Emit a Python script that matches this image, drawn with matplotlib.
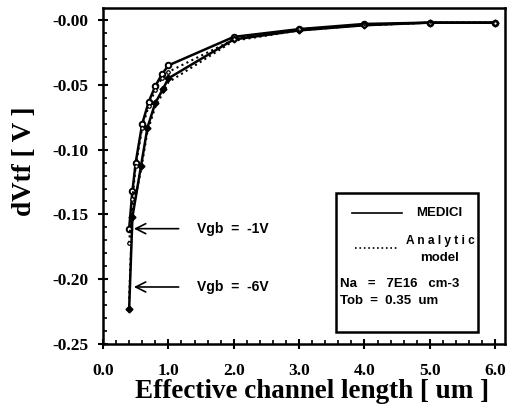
import numpy as np
import matplotlib
matplotlib.use('Agg')
import matplotlib.pyplot as plt
from matplotlib.patches import Rectangle
from matplotlib.ticker import MultipleLocator, FixedLocator, FixedFormatter

# channel length [um] and threshold shift [V]
L_vgb1 = [0.4, 0.45, 0.5, 0.6, 0.7, 0.8, 0.9, 1.0, 2.0, 3.0, 4.0, 5.0, 6.0]
medici_vgb1 = [-0.161, -0.132, -0.110, -0.080, -0.063, -0.051, -0.042, -0.035,
               -0.013, -0.007, -0.003, -0.002, -0.002]
analytic_vgb1 = [-0.172, -0.138, -0.113, -0.083, -0.066, -0.054, -0.045, -0.040,
                 -0.015, -0.007, -0.004, -0.002, -0.002]

L_vgb6 = [0.4, 0.45, 0.58, 0.68, 0.8, 0.92, 1.0, 2.0, 3.0, 4.0, 5.0, 6.0]
medici_vgb6 = [-0.223, -0.152, -0.113, -0.083, -0.064, -0.053, -0.045,
               -0.015, -0.008, -0.004, -0.002, -0.002]
analytic_vgb6 = [-0.215, -0.148, -0.116, -0.086, -0.067, -0.056, -0.048,
                 -0.016, -0.008, -0.004, -0.002, -0.002]

yticks = [0.0, -0.05, -0.10, -0.15, -0.20, -0.25]
ytick_labels = ['-0.00', '-0.05', '-0.10', '-0.15', '-0.20', '-0.25']
xticks = [0.0, 1.0, 2.0, 3.0, 4.0, 5.0, 6.0]

fig = plt.figure(figsize=(5.11, 4.05), dpi=100)
ax = fig.add_axes([103 / 511, 61 / 405, 402 / 511, 336 / 405])

ax.plot(L_vgb1, medici_vgb1, '-', color='black', lw=1.8, marker='o', ms=4,
        mfc='white', mec='black', mew=1.4)
ax.plot(L_vgb6, medici_vgb6, '-', color='black', lw=1.8, marker='D', ms=3.5,
        mfc='black', mec='black')
ax.plot(L_vgb1, analytic_vgb1, ':', color='black', lw=1.5, marker='o', ms=2.5,
        mfc='white', mec='black', mew=0.9)
ax.plot(L_vgb6, analytic_vgb6, ':', color='black', lw=1.5)

ax.set_xlim(0, 6.15)
ax.set_ylim(-0.25, 0.0093)

tick_font = dict(fontfamily='Liberation Serif', fontweight='bold', fontsize=12.5)
ax.xaxis.set_major_locator(FixedLocator(xticks))
ax.set_xticklabels(['%.1f' % v for v in xticks], **tick_font)
ax.xaxis.set_minor_locator(MultipleLocator(0.2))
ax.yaxis.set_major_locator(FixedLocator(yticks))
ax.yaxis.set_major_formatter(FixedFormatter(ytick_labels))
for lab in ax.get_yticklabels():
    lab.set_fontfamily('Liberation Serif')
    lab.set_fontweight('bold')
    lab.set_fontsize(12.5)
ax.yaxis.set_minor_locator(MultipleLocator(0.01))
ax.tick_params(which='major', direction='inout', length=7, width=1.5)
ax.tick_params(axis='x', which='major', pad=10)
ax.tick_params(axis='y', which='major', pad=7)
ax.tick_params(which='minor', direction='in', length=3, width=1.2)
ax.tick_params(top=False, right=False)
for s in ax.spines.values():
    s.set_linewidth(1.8)

ax.set_xlabel('Effective channel length [ um ]', fontfamily='Liberation Serif',
              fontweight='bold', fontsize=19.5)
ax.xaxis.set_label_coords(0.52, -0.105)
ax.set_ylabel('dVtf [ V ]', fontfamily='Liberation Serif',
              fontweight='bold', fontsize=19.5)
ax.yaxis.set_label_coords(-0.165, 0.545)

# arrows pointing to the two back-gate biases
arrow = dict(arrowstyle='->', color='black', lw=1.2, mutation_scale=18)
lab_font = dict(fontfamily='Liberation Sans', fontweight='bold', fontsize=10,
                va='center', ha='left')
ax.annotate('', xy=(0.43, -0.161), xytext=(1.2, -0.161), arrowprops=arrow)
ax.text(1.44, -0.161, 'Vgb  =  -1V', **lab_font)
ax.annotate('', xy=(0.43, -0.206), xytext=(1.2, -0.206), arrowprops=arrow)
ax.text(1.44, -0.206, 'Vgb  =  -6V', **lab_font)

# legend box in axes fraction
def fx(px):
    return (px - 103) / 402

def fy(py):
    return (344 - py) / 336

box = Rectangle((fx(336), fy(332)), fx(478) - fx(336), fy(193) - fy(332),
                transform=ax.transAxes, fill=True, facecolor='white',
                edgecolor='black', lw=1.8, zorder=5)
ax.add_patch(box)
ax.plot([fx(352), fx(402)], [fy(213), fy(213)], '-', color='black', lw=1.2,
        transform=ax.transAxes, zorder=6)
ax.plot([fx(355), fx(397)], [fy(248), fy(248)], ':', color='black', lw=1.2,
        transform=ax.transAxes, zorder=6)
box_font = dict(fontfamily='Liberation Sans', fontweight='bold', fontsize=9.5,
                transform=ax.transAxes, zorder=6, va='center')
ax.text(fx(416), fy(213), 'MEDICI', ha='left', **box_font)
ax.text(fx(440), fy(241), 'A n a l y t i c', ha='center',
        **{**box_font, 'fontsize': 8.6})
ax.text(fx(440), fy(258), 'model', ha='center', **box_font)
ax.text(fx(340), fy(284), 'Na   =   7E16   cm-3', ha='left', **box_font)
ax.text(fx(340), fy(301), 'Tob  =  0.35  um', ha='left', **box_font)

fig.savefig('out.png', dpi=100)
